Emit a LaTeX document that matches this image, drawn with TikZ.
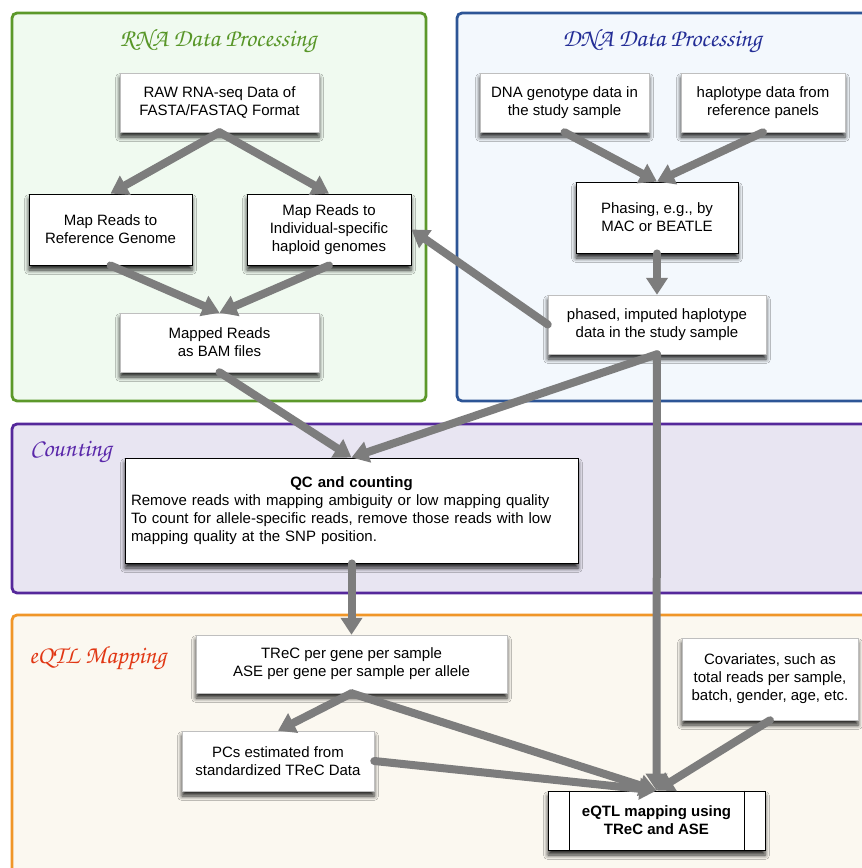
\documentclass[tikz,border=0pt]{standalone}
\usepackage{fontspec}
\setmainfont{Liberation Sans}
\newfontfamily\chorus{texgyrechorus-mediumitalic.otf}
\usetikzlibrary{arrows.meta,shadows.blur}
\definecolor{rnaB}{RGB}{92,152,42}
\definecolor{rnaF}{RGB}{240,250,240}
\definecolor{rnaT}{RGB}{88,150,40}
\definecolor{dnaB}{RGB}{45,85,150}
\definecolor{dnaF}{RGB}{243,248,253}
\definecolor{dnaT}{RGB}{35,45,150}
\definecolor{cntB}{RGB}{85,40,155}
\definecolor{cntF}{RGB}{232,229,242}
\definecolor{cntT}{RGB}{90,40,170}
\definecolor{eqB}{RGB}{240,150,40}
\definecolor{eqF}{RGB}{251,248,240}
\definecolor{eqT}{RGB}{225,55,20}
\definecolor{arrowgray}{RGB}{125,125,125}
\tikzset{
  panel/.style={line width=2.8pt, rounded corners=5pt},
  ptitle/.style={font=\chorus\fontsize{25}{29}\selectfont, inner sep=0pt},
  basebox/.style={fill=white, align=center,
    font=\fontsize{15}{18}\selectfont, inner sep=6pt,
    blur shadow={shadow xshift=0pt, shadow yshift=-5pt, shadow blur radius=4.5pt, shadow opacity=85}},
  box/.style={basebox, draw=black, line width=0.9pt},
  tbbox/.style={basebox, draw=black!25, line width=0.5pt,
    append after command={[draw=black, line width=1pt]
      (\tikzlastnode.north west) -- (\tikzlastnode.north east)
      (\tikzlastnode.south west) -- (\tikzlastnode.south east)}},
  flow/.style={draw=arrowgray, line width=8pt, line cap=round,
    -{Triangle[length=17pt,width=21pt]}},
}
\begin{document}
\begin{tikzpicture}[x=1pt,y=-1pt]
\useasboundingbox (0,0) rectangle (862,868);
\clip (0,0) rectangle (862,868);
% panels
\draw[panel, draw=rnaB, fill=rnaF] (12,13) rectangle (426,401);
\draw[panel, draw=dnaB, fill=dnaF] (457,13) rectangle (890,401);
\draw[panel, draw=cntB, fill=cntF] (12,424) rectangle (890,593);
\draw[panel, draw=eqB, fill=eqF] (12,615) rectangle (890,900);
% titles
\node[ptitle, text=rnaT] (trna) at (218,41) {RNA Data Processing};
\node[ptitle, text=dnaT] (tdna) at (662,41) {DNA Data Processing};
\node[ptitle, text=cntT, anchor=west] (tcnt) at (30,452) {Counting};
\node[ptitle, text=eqT, anchor=west] (teq) at (29,658) {eQTL Mapping};
% boxes
\node[tbbox, minimum width=199pt, minimum height=59pt] (raw) at (219.5,102.5) {RAW RNA-seq Data of\\FASTA/FASTAQ Format};
\node[box, minimum width=163pt, minimum height=71pt] (mapref) at (110.5,229.5) {Map Reads to\\Reference Genome};
\node[box, minimum width=164pt, minimum height=71pt] (mapind) at (329,229.5) {Map Reads to\\Individual-specific\\haploid genomes};
\node[tbbox, minimum width=199pt, minimum height=59pt] (bam) at (219.5,342.5) {Mapped Reads\\as BAM files};
\node[tbbox, minimum width=169pt, minimum height=59pt] (geno) at (564.5,102.5) {DNA genotype data in\\the study sample};
\node[tbbox, minimum width=164pt, minimum height=59pt] (haplo) at (763,102.5) {haplotype data from\\reference panels};
\node[box, minimum width=162pt, minimum height=71pt] (phasing) at (657,217.5) {Phasing, e.g., by\\MAC or BEATLE};
\node[tbbox, minimum width=218pt, minimum height=59pt] (phased) at (657,324.5) {phased, imputed haplotype\\data in the study sample};
\node[box, minimum width=453pt, minimum height=105pt, text width=441pt, align=left] (qc) at (351.5,510.5)
  {\makebox[\linewidth][c]{\bfseries QC and counting}\\
   Remove reads with mapping ambiguity or low mapping quality\\
   To count for allele-specific reads, remove those reads with low\\
   mapping quality at the SNP position.};
\node[tbbox, minimum width=311pt, minimum height=58pt] (trec) at (351.5,664) {TReC per gene per sample\\ASE per gene per sample per allele};
\node[tbbox, minimum width=192pt, minimum height=60pt] (pcs) at (278,761) {PCs estimated from\\standardized TReC Data};
\node[tbbox, minimum width=176pt, minimum height=82pt] (cov) at (770,679) {Covariates, such as\\total reads per sample,\\batch, gender, age, etc.};
\node[box, minimum width=217pt, minimum height=59pt, font=\bfseries\fontsize{15}{18}\selectfont] (eqtl) at (656.5,820.5) {eQTL mapping using\\TReC and ASE};
\draw[line width=0.9pt] ([xshift=22pt]eqtl.north west) -- ([xshift=22pt]eqtl.south west);
\draw[line width=0.9pt] ([xshift=-21pt]eqtl.north east) -- ([xshift=-21pt]eqtl.south east);
% arrows
\draw[flow] (raw.south) -- (mapref.north);
\draw[flow] (raw.south) -- (mapind.north);
\draw[flow] (mapref.south) -- (bam.north);
\draw[flow] (mapind.south) -- (bam.north);
\draw[flow] (phased.west) -- (mapind.east);
\draw[flow] (bam.south) -- (qc.north);
\draw[flow] (phased.south) -- (qc.north);
\draw[flow] (phased.south) -- (eqtl.north);
\draw[flow] (geno.south) -- (phasing.north);
\draw[flow] (haplo.south) -- (phasing.north);
\draw[flow] (phasing.south) -- (phased.north);
\draw[flow] (qc.south) -- (trec.north);
\draw[flow] (trec.south) -- (pcs.north);
\draw[flow] (trec.south) -- (eqtl.north);
\draw[flow] (pcs.east) -- (eqtl.north);
\draw[flow] (cov.south) -- (eqtl.north);
\end{tikzpicture}
\end{document}
